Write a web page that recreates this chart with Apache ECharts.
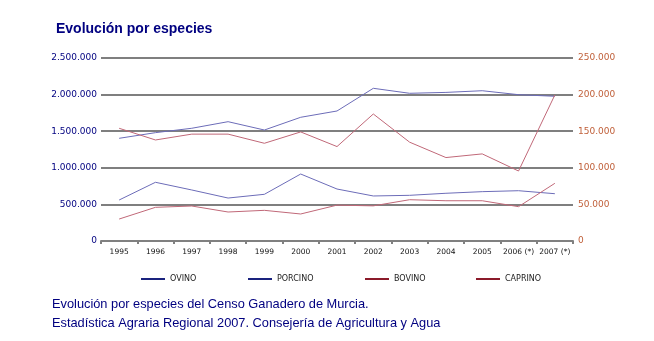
<!DOCTYPE html>
<html><head><meta charset="utf-8">
<script src="https://cdn.jsdelivr.net/npm/echarts@6/dist/echarts.min.js"></script>
<style>html,body{margin:0;padding:0;background:#fff}#c{width:654px;height:341px}</style>
</head><body><div id="c"></div>
<script>
const categories = ['1995','1996','1997','1998','1999','2000','2001','2002','2003','2004','2005','2006 (*)','2007 (*)'];
const ovino   = [560000, 802000, 697000, 587000, 638000, 915000, 710000, 615000, 624000, 652000, 674000, 687000, 646000];
const porcino = [1403000, 1480000, 1540000, 1630000, 1516000, 1690000, 1776000, 2086000, 2018000, 2030000, 2053000, 1999000, 1977000];
const bovino  = [30000, 46000, 47800, 39600, 41900, 36900, 49000, 48000, 56400, 55000, 55000, 46900, 78800];
const caprino = [154000, 138000, 146000, 146000, 133500, 149000, 129000, 173500, 135000, 114000, 119000, 95600, 199500];
const leftTicks = [0, 500000, 1000000, 1500000, 2000000, 2500000];
const rightTicks = [0, 50000, 100000, 150000, 200000, 250000];

const fmt = v => String(v).replace(/\B(?=(\d{3})+(?!\d))/g, '.');
const chart = echarts.init(document.getElementById('c'));
const blueLine = '#6c6cb8', redLine = '#c06878';
const blueLeg = '#1a237e', redLeg = '#8b1a2a';
function mk(name, data, axis, color){
  return {name, type:'line', data, yAxisIndex:axis, symbol:'none', animation:false,
    lineStyle:{color, width:1}, itemStyle:{color}};
}
function leg(name, left, color){
  return {left, top:270, itemWidth:24, itemHeight:10, itemGap:2, icon:'path://M0,4 L24,4 L24,6 L0,6 Z',
    data:[{name, itemStyle:{color}}], textStyle:{fontFamily:'DejaVu Sans', fontSize:8, color:'#222'},
    selectedMode:false};
}
chart.setOption({
  animation:false,
  title:{text:'Evolución por especies', left:51, top:17,
    textStyle:{fontFamily:'Liberation Sans', fontWeight:'bold', fontSize:14, color:'#000080'}},
  grid:{left:101, right:81, top:58, bottom:100},
  legend:[leg('OVINO',136,blueLeg), leg('PORCINO',243,blueLeg), leg('BOVINO',360,redLeg), leg('CAPRINO',471,redLeg)],
  xAxis:{type:'category', data:categories, boundaryGap:true,
    axisLine:{lineStyle:{color:'#808080', width:2}},
    axisTick:{show:true, length:3, lineStyle:{color:'#808080', width:2}},
    axisLabel:{interval:0, fontFamily:'DejaVu Sans', fontSize:7.5, color:'#111', margin:7}},
  yAxis:[
    {type:'value', min:0, max:2500000, interval:500000,
     axisLine:{show:false}, axisTick:{show:false},
     splitLine:{lineStyle:{color:'#7f7f7f', width:2}},
     axisLabel:{formatter:fmt, fontFamily:'DejaVu Sans', fontSize:9, color:'#000080', margin:4}},
    {type:'value', min:0, max:250000, interval:50000, position:'right',
     axisLine:{show:false}, axisTick:{show:false}, splitLine:{show:false},
     axisLabel:{formatter:fmt, fontFamily:'DejaVu Sans', fontSize:9, color:'#c0603a', margin:5}}
  ],
  graphic:[
    {type:'text', left:52, top:298, style:{text:'Evolución por especies del Censo Ganadero de Murcia.', font:'12.8px "Liberation Sans"', fill:'#000080'}},
    {type:'text', left:52, top:317, style:{text:'Estadística Agraria Regional 2007. Consejería de Agricultura y Agua', font:'12.8px "Liberation Sans"', fill:'#000080'}}
  ],
  series:[
    mk('OVINO', ovino, 0, blueLine),
    mk('PORCINO', porcino, 0, blueLine),
    mk('BOVINO', bovino, 1, redLine),
    mk('CAPRINO', caprino, 1, redLine)
  ]
});
</script></body></html>
